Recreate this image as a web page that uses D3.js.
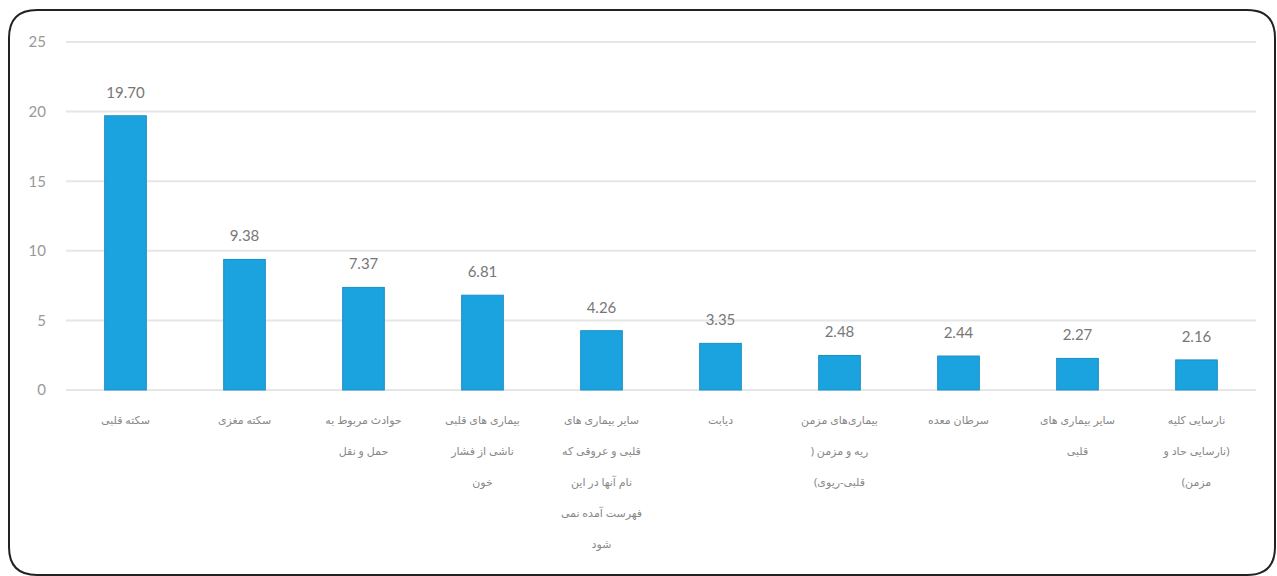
<!DOCTYPE html>
<html><head><meta charset="utf-8">
<script src="https://cdn.jsdelivr.net/npm/d3@7"></script>
<style>
html,body{margin:0;padding:0;background:#fff;}
svg{display:block;}
</style></head>
<body>
<svg id="chart" width="1277" height="576"></svg>
<script>
const categories = [
  ["سکته قلبی"],
  ["سکته مغزی"],
  ["حوادث مربوط به", "حمل و نقل"],
  ["بیماری های قلبی", "ناشی از فشار", "خون"],
  ["سایر بیماری های", "قلبی و عروقی که", "نام آنها در این", "فهرست آمده نمی", "شود"],
  ["دیابت"],
  ["بیماری‌های مزمن", "ریه و مزمن (", "قلبی-ریوی)"],
  ["سرطان معده"],
  ["سایر بیماری های", "قلبی"],
  ["نارسایی کلیه", "(نارسایی حاد و", "مزمن)"]
];
const values = [19.70, 9.38, 7.37, 6.81, 4.26, 3.35, 2.48, 2.44, 2.27, 2.16];
const valueLabels = ["19.70", "9.38", "7.37", "6.81", "4.26", "3.35", "2.48", "2.44", "2.27", "2.16"];
const yTicks = [0, 5, 10, 15, 20, 25];

const svg = d3.select("#chart");
const font = "Lato, 'Noto Sans', sans-serif";

// frame
const L = 9, T = 10, R = 1275, B = 575, r = 28;
svg.append("path")
  .attr("d", `M${L},${T + r} Q${L},${T} ${L + r},${T} L${R - r},${T} Q${R},${T} ${R},${T + r} L${R},${B - r} Q${R},${B} ${R - r},${B} L${L + r},${B} Q${L},${B} ${L},${B - r} Z`)
  .attr("fill", "#fff").attr("stroke", "#222").attr("stroke-width", 2);

const x = d3.scaleBand().domain(d3.range(values.length)).range([66, 1256]).paddingInner(0.65).paddingOuter(0.325);
const y = d3.scaleLinear().domain([0, 25]).range([390, 42]);

// gridlines
svg.append("g").selectAll("line").data(yTicks).join("line")
  .attr("x1", 66).attr("x2", 1256)
  .attr("y1", d => y(d)).attr("y2", d => y(d))
  .attr("stroke", "#e6e6e6").attr("stroke-width", 2);

// y axis
const yAxis = svg.append("g").attr("transform", "translate(46,0)")
  .call(d3.axisLeft(y).tickValues(yTicks).tickSize(0).tickPadding(0));
yAxis.select(".domain").remove();
yAxis.selectAll("text").attr("font-family", font).attr("font-size", 15).attr("fill", "#999");

// bars
svg.append("g").selectAll("rect").data(values).join("rect")
  .attr("x", (d, i) => x(i)).attr("width", x.bandwidth())
  .attr("y", d => y(d)).attr("height", d => y(0) - y(d))
  .attr("fill", "#1ba3e0").attr("stroke", "#1a8fc4").attr("stroke-width", 1);

// value labels
svg.append("g").selectAll("text").data(values).join("text")
  .attr("x", (d, i) => x(i) + x.bandwidth() / 2)
  .attr("y", d => y(d) - 18)
  .attr("text-anchor", "middle")
  .attr("font-family", font).attr("font-size", 15).attr("fill", "#777")
  .text((d, i) => valueLabels[i]);

// category labels
const cat = svg.append("g").selectAll("text").data(categories).join("text")
  .attr("x", (d, i) => x(i) + x.bandwidth() / 2)
  .attr("y", 424)
  .attr("text-anchor", "middle")
  .attr("direction", "rtl")
  .attr("font-family", "'Noto Sans', 'DejaVu Sans', sans-serif").attr("font-size", 11).attr("fill", "#888");
cat.each(function(lines, i) {
  const t = d3.select(this);
  lines.forEach((ln, j) => {
    t.append("tspan").attr("x", x(i) + x.bandwidth() / 2).attr("dy", j === 0 ? 0 : 31).text(ln);
  });
});
</script>
</body></html>
